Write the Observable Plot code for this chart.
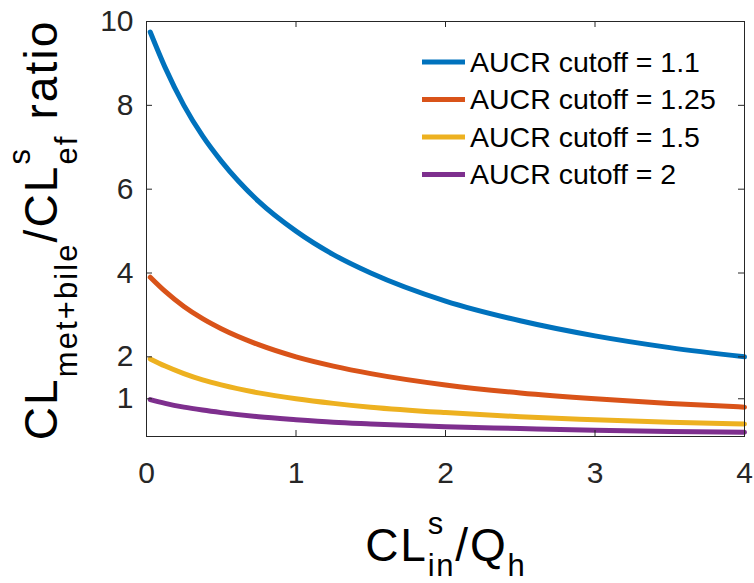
<!DOCTYPE html>
<html><head><meta charset="utf-8">
<script src="https://cdn.jsdelivr.net/npm/d3@7"></script>
<script src="https://cdn.jsdelivr.net/npm/@observablehq/plot@0.6"></script>
<style>body{margin:0;background:#fff} svg{display:block}</style>
</head><body><div id="chart"></div>
<script>
// ---- data ----
const xValues = [0.025, 0.125, 0.25, 0.375, 0.5, 0.75, 1, 1.25, 1.5, 2, 2.5, 3, 3.5, 4];
const seriesNames = ["AUCR cutoff = 1.1", "AUCR cutoff = 1.25", "AUCR cutoff = 1.5", "AUCR cutoff = 2"];
const cutoff11  = [9.75, 8.9, 8.0, 7.27, 6.67, 5.71, 5.0, 4.44, 4.0, 3.33, 2.86, 2.5, 2.22, 2.0];
const cutoff125 = [3.9, 3.56, 3.2, 2.91, 2.67, 2.29, 2.0, 1.78, 1.6, 1.33, 1.14, 1.0, 0.89, 0.8];
const cutoff15  = [1.95, 1.78, 1.6, 1.45, 1.33, 1.14, 1.0, 0.89, 0.8, 0.67, 0.57, 0.5, 0.44, 0.4];
const cutoff2   = [0.98, 0.89, 0.8, 0.73, 0.67, 0.57, 0.5, 0.44, 0.4, 0.33, 0.29, 0.25, 0.22, 0.2];
const xTicks = [0, 1, 2, 3, 4];
const yTicks = [1, 2, 4, 6, 8, 10];
const colors = ["#0072BD", "#D95319", "#EDB120", "#7E2F8E"];

const allSeries = [cutoff11, cutoff125, cutoff15, cutoff2];
const data = allSeries.flatMap((vals, i) => vals.map((y, j) => ({series: seriesNames[i], x: xValues[j], y})));

// ---- layout ----
const W = 754, H = 583, mL = 146, mR = 10, mT = 21, mB = 147;
const fw = W - mL - mR, fh = H - mT - mB;
const font = "'Liberation Sans', Arial, Helvetica, sans-serif";
const ink = "#262626";

const chart = Plot.plot({
  width: W, height: H,
  marginLeft: mL, marginRight: mR, marginTop: mT, marginBottom: mB,
  style: {fontFamily: font, color: ink, background: "#fff", overflow: "visible"},
  x: {domain: [0, 4]},
  y: {domain: [0.1, 10]},
  color: {domain: seriesNames, range: colors},
  marks: [
    Plot.line(data, {x: "x", y: "y", stroke: "series", strokeWidth: 5, curve: "monotone-x"}),
    Plot.frame({stroke: ink, strokeWidth: 1}),
    Plot.tickY(yTicks, {y: d => d, insetRight: fw - 6, stroke: ink}),
    Plot.tickY(yTicks, {y: d => d, insetLeft: fw - 6, stroke: ink}),
    Plot.tickX(xTicks, {x: d => d, insetTop: fh - 6, stroke: ink}),
    Plot.tickX(xTicks, {x: d => d, insetBottom: fh - 6, stroke: ink}),
    Plot.axisY(yTicks, {tickSize: 0, tickPadding: 13, fontSize: 30, label: null, fill: ink, tickFormat: d3.format("d")}),
    Plot.axisX(xTicks, {tickSize: 0, tickPadding: 25, fontSize: 30, label: null, fill: ink, tickFormat: d3.format("d")})
  ]
});
document.getElementById("chart").appendChild(chart);

const svg = d3.select(chart);

// ---- legend (inside the axes, top right) ----
const leg = svg.append("g").attr("font-family", font).attr("font-size", 28.5)
  .attr("fill", "#000").attr("text-anchor", "start");
seriesNames.forEach((name, i) => {
  const y = 62 + i * 37.5;
  leg.append("line").attr("x1", 422).attr("x2", 465).attr("y1", y).attr("y2", y)
    .attr("stroke", colors[i]).attr("stroke-width", 5);
  leg.append("text").attr("x", 470).attr("y", y).attr("dy", "0.35em").text(name);
});

// ---- rich (sub/superscript) axis labels ----
function richLabel(parts, spacing, transformFn) {
  const g = svg.append("g").attr("font-family", font).attr("fill", "#000")
    .attr("text-anchor", "start").attr("letter-spacing", spacing);
  let cursor = 0, stackStart = 0, stackMax = 0;
  for (const p of parts) {
    const t = g.append("text").attr("font-size", p.size).attr("y", p.shift || 0).text(p.text);
    let x;
    if (p.stackWithPrev) { x = stackStart; }
    else { x = cursor; stackStart = cursor; stackMax = 0; }
    t.attr("x", x);
    const w = t.node().getComputedTextLength();
    stackMax = Math.max(stackMax, w);
    cursor = stackStart + stackMax;
  }
  g.attr("transform", transformFn(cursor - spacing));
}
const MAIN = 46, SCRIPT = 31;
richLabel([
  {text: "CL", size: MAIN},
  {text: "s", size: SCRIPT, shift: -27},
  {text: "in", size: SCRIPT, shift: 15, stackWithPrev: true},
  {text: "/Q", size: MAIN},
  {text: "h", size: SCRIPT, shift: 15}
], 1.8, w => `translate(${mL + fw / 2 - w / 2},561)`);

richLabel([
  {text: "CL", size: MAIN},
  {text: "met+bile", size: SCRIPT, shift: 20},
  {text: "/CL", size: MAIN},
  {text: "s", size: SCRIPT, shift: -27},
  {text: "ef", size: SCRIPT, shift: 20, stackWithPrev: true},
  {text: "\u00a0ratio", size: MAIN}
], 2.1, w => `translate(57,${231 + w / 2}) rotate(-90)`);
</script>
</body></html>
